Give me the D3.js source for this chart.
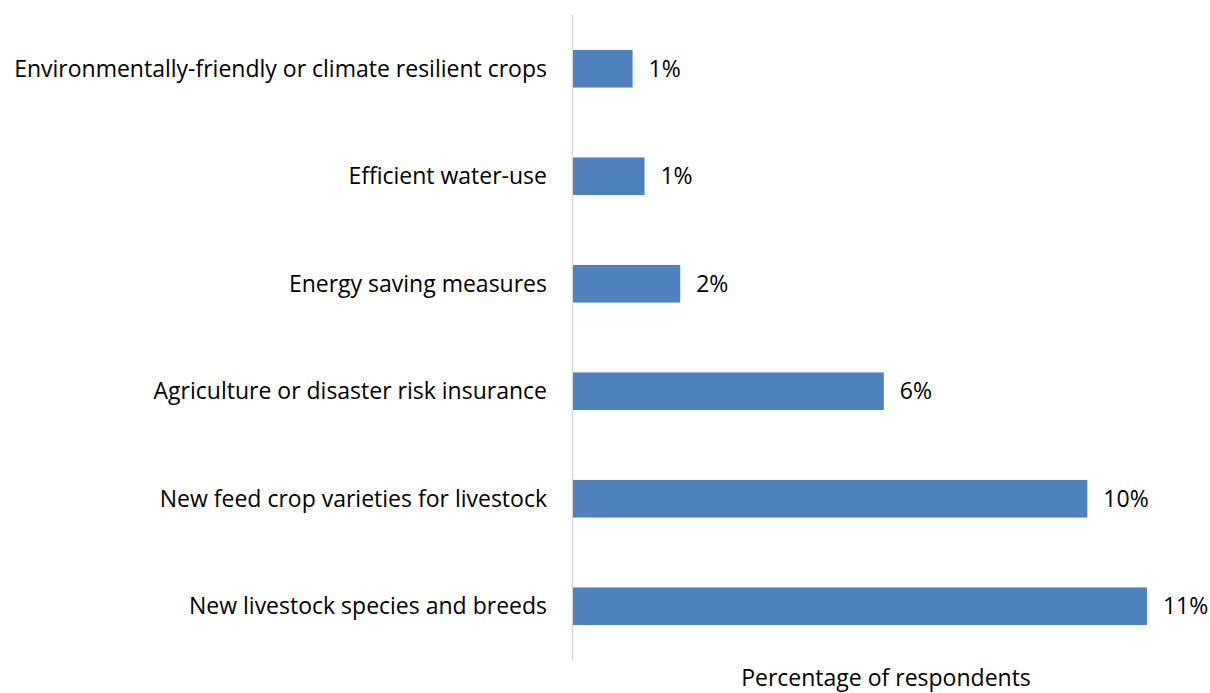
<!DOCTYPE html>
<html>
<head>
<meta charset="utf-8">
<script src="https://cdn.jsdelivr.net/npm/d3@7"></script>
<style>
  html, body { margin: 0; padding: 0; background: #fff; }
  svg { display: block; }
  text { font-family: "Open Sans", "Noto Sans", sans-serif; fill: #000; }
</style>
</head>
<body>
<svg id="chart" width="1210" height="693"></svg>
<script>
// Adaptation measures, share of respondents (%), top to bottom
const categories = [
  "Environmentally-friendly or climate resilient crops",
  "Efficient water-use ",
  "Energy saving measures",
  "Agriculture or disaster risk insurance",
  "New feed crop varieties for livestock",
  "New livestock species and breeds"
];
const values = [1.15, 1.38, 2.07, 6.0, 9.93, 11.08];
const axisTitle = "Percentage of respondents";

const svg = d3.select("#chart");
const plotLeft = 573, plotTop = 15, plotBottom = 660;
const fontSize = "23px";

const y = d3.scaleBand()
  .domain(categories)
  .range([plotTop, plotBottom])
  .paddingInner(0.65)
  .paddingOuter(0.325);

const x = d3.scaleLinear()
  .domain([0, 12])
  .range([plotLeft, plotLeft + 621.6]);

// vertical category axis line
svg.append("line")
  .attr("x1", plotLeft - 0.5).attr("x2", plotLeft - 0.5)
  .attr("y1", plotTop).attr("y2", plotBottom)
  .attr("stroke", "#D9D9D9").attr("stroke-width", 1.5);

const rows = svg.append("g").selectAll("g")
  .data(categories.map((c, i) => ({ c, v: values[i] })))
  .join("g");

rows.append("rect")
  .attr("x", x(0))
  .attr("y", d => y(d.c))
  .attr("width", d => x(d.v) - x(0))
  .attr("height", y.bandwidth())
  .attr("fill", "#4F81BD");

rows.append("text")
  .attr("x", plotLeft - 26)
  .attr("y", d => y(d.c) + y.bandwidth() / 2)
  .attr("dy", "0.35em")
  .attr("text-anchor", "end")
  .style("font-size", fontSize)
  .text(d => d.c);

rows.append("text")
  .attr("x", d => x(d.v) + 16)
  .attr("y", d => y(d.c) + y.bandwidth() / 2)
  .attr("dy", "0.35em")
  .style("font-size", fontSize)
  .text(d => Math.round(d.v) + "%");

svg.append("text")
  .attr("x", 886)
  .attr("y", 686)
  .attr("text-anchor", "middle")
  .style("font-size", fontSize)
  .text(axisTitle);
</script>
</body>
</html>
